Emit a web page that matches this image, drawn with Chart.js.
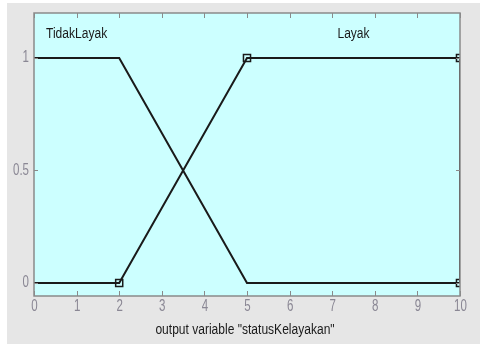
<!DOCTYPE html>
<html>
<head>
<meta charset="utf-8">
<script src="https://cdn.jsdelivr.net/npm/chart.js@4/dist/chart.umd.min.js"></script>
<style>
  html, body { margin: 0; padding: 0; background: #ffffff; }
  canvas { display: block; }
</style>
</head>
<body>
<canvas id="mfCanvas" width="482" height="352"></canvas>
<script>
// membership functions of output variable "statusKelayakan"
const xTicks = [0, 1, 2, 3, 4, 5, 6, 7, 8, 9, 10];
const yTicks = [0, 0.5, 1];
const tidakLayakX = [0, 2, 5, 10];
const tidakLayakY = [1, 1, 0, 0];
const layakX = [0, 2, 5, 10, 10];
const layakY = [0, 0, 1, 1, 0];
const layakMarker = [0, 1, 1, 1, 1]; // selected MF shows its corner points
const mfNames = ["TidakLayak", "Layak"];
const mfLabelAt = [1, 7.5];
const axisTitle = 'output variable "statusKelayakan"';

const FONT = '"Liberation Sans", Arial, sans-serif';

function toPoints(xs, ys) {
  return xs.map((x, i) => ({ x: x, y: ys[i] }));
}

// the reference uses a narrow font, so squeeze text horizontally
function narrowText(c, text, x, y, sx, align) {
  c.save();
  c.translate(x, y);
  c.scale(sx, 1);
  c.textAlign = align;
  c.textBaseline = "middle";
  c.fillText(text, 0, 0);
  c.restore();
}

// gray panel, cyan axes area, frame, inside ticks and text
const matlabLook = {
  id: "matlabLook",
  beforeDraw(chart) {
    const c = chart.ctx;
    const a = chart.chartArea;
    c.save();
    c.fillStyle = "#e6e6e6";
    c.fillRect(7, 3, 473, 341);
    c.fillStyle = "#ccffff";
    c.fillRect(a.left, a.top, a.right - a.left, a.bottom - a.top);
    c.restore();
  },
  afterDraw(chart) {
    const c = chart.ctx;
    const a = chart.chartArea;
    const xs = chart.scales.x;
    const ys = chart.scales.y;
    c.save();
    c.strokeStyle = "#8a8a8a";
    c.lineWidth = 1.5;
    c.strokeRect(a.left, a.top, a.right - a.left, a.bottom - a.top);

    c.lineWidth = 1;
    c.beginPath();
    xTicks.forEach(v => {
      const px = Math.round(xs.getPixelForValue(v)) + 0.5;
      c.moveTo(px, a.bottom);
      c.lineTo(px, a.bottom - 5);
      c.moveTo(px, a.top);
      c.lineTo(px, a.top + 5);
    });
    yTicks.forEach(v => {
      const py = Math.round(ys.getPixelForValue(v)) + 0.5;
      c.moveTo(a.left, py);
      c.lineTo(a.left + 4, py);
      c.moveTo(a.right, py);
      c.lineTo(a.right - 4, py);
    });
    c.stroke();

    // tick labels
    c.fillStyle = "#8a8794";
    c.font = "16px " + FONT;
    xTicks.forEach(v => {
      narrowText(c, String(v), xs.getPixelForValue(v) + 0.5, a.bottom + 11, 0.72, "center");
    });
    yTicks.forEach(v => {
      narrowText(c, String(v), a.left - 5, ys.getPixelForValue(v), 0.72, "right");
    });

    // MF names and axis title
    c.fillStyle = "#1a1a1a";
    c.font = "14px " + FONT;
    mfNames.forEach((name, i) => {
      narrowText(c, name, xs.getPixelForValue(mfLabelAt[i]), a.top + 21, 0.86, "center");
    });
    narrowText(c, axisTitle, 245, 330, 0.86, "center");
    c.restore();
  }
};

new Chart(document.getElementById("mfCanvas"), {
  type: "line",
  data: {
    datasets: [
      {
        label: mfNames[0],
        data: toPoints(tidakLayakX, tidakLayakY),
        borderColor: "#1a1a1a",
        borderWidth: 2,
        pointRadius: 0,
        tension: 0,
        clip: 0
      },
      {
        label: mfNames[1],
        data: toPoints(layakX, layakY),
        borderColor: "#1a1a1a",
        borderWidth: 2,
        pointStyle: "rect",
        pointRadius: layakMarker.map(m => m ? 5 : 0),
        pointBorderColor: "#1a1a1a",
        pointBackgroundColor: "rgba(0,0,0,0)",
        pointBorderWidth: 1.5,
        tension: 0,
        clip: 0
      }
    ]
  },
  options: {
    responsive: false,
    animation: false,
    layout: { padding: { left: 0, top: 13, right: 22, bottom: 0 } },
    plugins: {
      legend: { display: false },
      tooltip: { enabled: false }
    },
    scales: {
      x: {
        type: "linear",
        min: 0,
        max: 10,
        afterBuildTicks(scale) { scale.ticks = xTicks.map(v => ({ value: v })); },
        afterFit(scale) { scale.height = 56; },
        grid: { display: false },
        border: { display: false },
        ticks: { display: false }
      },
      y: {
        type: "linear",
        min: -0.058,
        max: 1.2,
        afterBuildTicks(scale) { scale.ticks = yTicks.map(v => ({ value: v })); },
        afterFit(scale) { scale.width = 34; },
        grid: { display: false },
        border: { display: false },
        ticks: { display: false }
      }
    }
  },
  plugins: [matlabLook]
});
</script>
</body>
</html>
